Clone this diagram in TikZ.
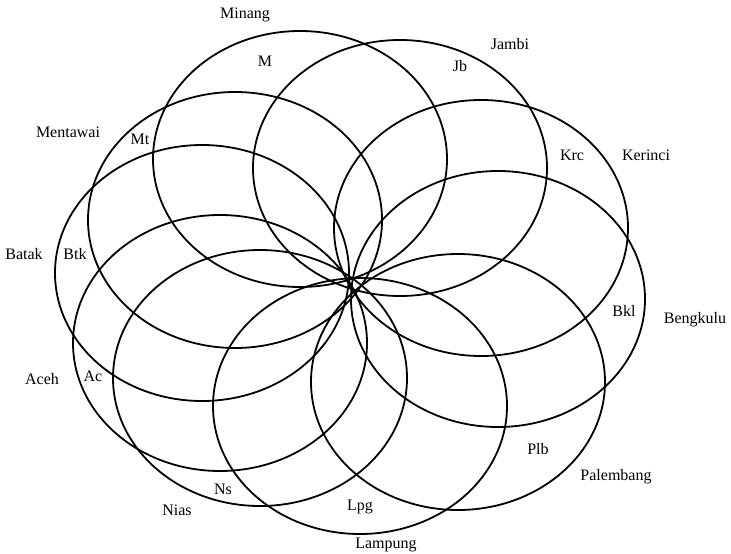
\documentclass[tikz,border=0pt]{standalone}
\usepackage{fontspec}
\setmainfont{Liberation Serif}

\begin{document}
\begin{tikzpicture}[x=1pt, y=-1pt,
    region/.style={line width=1.8pt},
    every node/.style={font=\fontsize{16}{18}\selectfont, inner sep=1pt}]
      \useasboundingbox (0,0) rectangle (731,554);

      % the ten regions, all through the middle
      \foreach \cx/\cy in {300/159, 400/168, 481/228, 498/299, 458/382,
                           360/406, 260/378, 220/343, 202/273, 235/220} {
        \draw[region] (\cx,\cy) ellipse (147pt and 128pt);
      }

      % outer names
      \node (minang)    at (245,15)  {Minang};
      \node (jambi)     at (510,44)  {Jambi};
      \node (kerinci)   at (646,155) {Kerinci};
      \node (bengkulu)  at (695,320) {Bengkulu};
      \node (palembang) at (616,477) {Palembang};
      \node (lampung)   at (386,545) {Lampung};
      \node (nias)      at (177,510) {Nias};
      \node (aceh)      at (42,379)  {Aceh};
      \node (batak)     at (24,254)  {Batak};
      \node (mentawai)  at (68,132)  {Mentawai};

      % short names
      \node (m)   at (265,61)  {M};
      \node (jb)  at (460,66)  {Jb};
      \node (krc) at (572,155) {Krc};
      \node (bkl) at (624,311) {Bkl};
      \node (plb) at (538,449) {Plb};
      \node (lpg) at (360,507) {Lpg};
      \node (ns)  at (223,489) {Ns};
      \node (ac)  at (93,376)  {Ac};
      \node (btk) at (75,254)  {Btk};
      \node (mt)  at (140,139) {Mt};
    \end{tikzpicture}
\end{document}
